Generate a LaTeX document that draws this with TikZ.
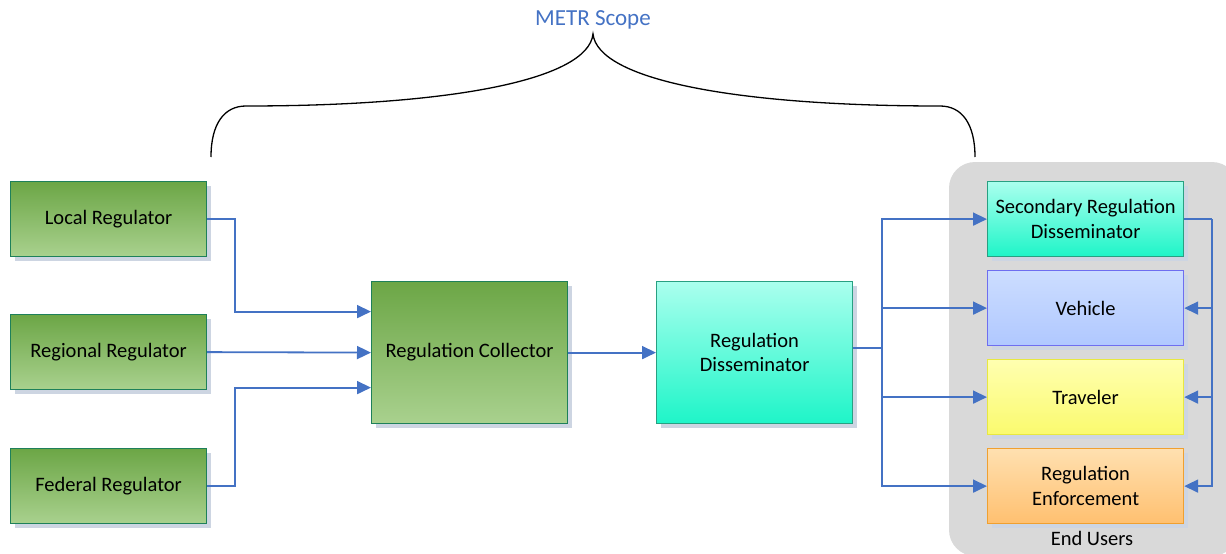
\documentclass[tikz,border=0pt]{standalone}
\usepackage{fontspec}
\setmainfont{Carlito}
\usetikzlibrary{arrows.meta,shadows}

\definecolor{flowblue}{RGB}{68,114,196}
\definecolor{grtop}{RGB}{108,166,70}
\definecolor{grbot}{RGB}{169,209,142}
\definecolor{grline}{RGB}{30,128,90}
\definecolor{cytop}{RGB}{170,255,238}
\definecolor{cybot}{RGB}{30,245,200}
\definecolor{cyline}{RGB}{40,160,130}
\definecolor{vhtop}{RGB}{204,221,255}
\definecolor{vhbot}{RGB}{176,200,255}
\definecolor{vhline}{RGB}{110,110,240}
\definecolor{trtop}{RGB}{255,255,176}
\definecolor{trbot}{RGB}{250,250,110}
\definecolor{trline}{RGB}{232,232,64}
\definecolor{entop}{RGB}{255,224,176}
\definecolor{enbot}{RGB}{255,192,112}
\definecolor{enline}{RGB}{240,160,48}
\definecolor{shadowgray}{RGB}{205,213,226}
\definecolor{usergray}{RGB}{217,217,217}

\begin{document}
\begin{tikzpicture}[x=1pt,y=-1pt,
  font=\fontsize{20.5}{24.5}\selectfont,
  box/.style={draw,line width=1.2pt,minimum width=196pt,minimum height=75pt,
    inner sep=0pt,align=center,anchor=north west,
    drop shadow={shadow xshift=4pt,shadow yshift=-4pt,fill=shadowgray,opacity=1}},
  regbox/.style={box,top color=grtop,bottom color=grbot,draw=grline},
  disbox/.style={box,top color=cytop,bottom color=cybot,draw=cyline},
  flow/.style={draw=flowblue,line width=1.8pt,-{Triangle[length=14pt,width=13pt]}},
  bus/.style={draw=flowblue,line width=1.8pt}]
  \useasboundingbox (0,0) rectangle (1226,554);

  % End users area
  \fill[usergray,rounded corners=26pt] (949,162) rectangle (1238,556);
  \node (endusers) at (1092,538) {End Users};

  % Scope brace
  \node[text=flowblue,font=\fontsize{23}{27}\selectfont] (scope) at (593,20) {METR Scope};
  \draw[line width=1.3pt] (211,157) .. controls (211,124) and (224,106) .. (246,106)
    .. controls (450,106) and (588,80) .. (593,34)
    .. controls (598,80) and (736,106) .. (940,106)
    .. controls (962,106) and (975,124) .. (975,157);

  % Regulators
  \node[regbox] (local) at (10,181) {Local Regulator};
  \node[regbox] (regional) at (10,314) {Regional Regulator};
  \node[regbox] (federal) at (10,448) {Federal Regulator};

  % Collector and disseminator
  \node[regbox,minimum height=142pt] (collector) at (371,281) {Regulation Collector};
  \node[disbox,minimum height=142pt] (dissem) at (656,281) {Regulation\\Disseminator};

  % End user boxes
  \node[disbox] (secondary) at (987,181) {Secondary Regulation\\Disseminator};
  \node[box,top color=vhtop,bottom color=vhbot,draw=vhline] (vehicle) at (987,270) {Vehicle};
  \node[box,top color=trtop,bottom color=trbot,draw=trline] (traveler) at (987,359) {Traveler};
  \node[box,top color=entop,bottom color=enbot,draw=enline] (enforce) at (987,448) {Regulation\\Enforcement};

  % Inputs to collector
  \draw[flow] (local.east) -- ++(28,0) |- ([yshift=41pt]collector.west);
  \draw[flow] (regional.east) -- (collector.west);
  \draw[flow] (federal.east) -- ++(28,0) |- ([yshift=-35pt]collector.west);
  \draw[flow] (collector.east) -- (dissem.west);

  % Dissemination
  \draw[bus] ([yshift=5pt]dissem.east) -- ++(29,0) coordinate (split);
  \foreach \t in {secondary,vehicle,traveler,enforce}
  {
    \draw[flow] (split) |- (\t.west);
  }

  % Secondary dissemination
  \draw[bus] (secondary.east) -- ++(28,0) coordinate (back);
  \foreach \t in {vehicle,traveler,enforce}
  {
    \draw[flow] (back) |- (\t.east);
  }
\end{tikzpicture}
\end{document}
